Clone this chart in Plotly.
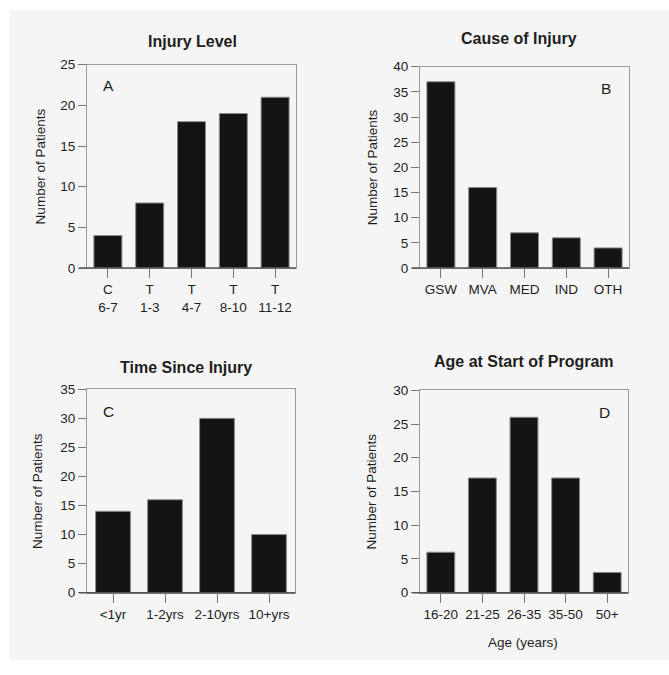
import plotly.graph_objects as go

# ---- data -------------------------------------------------------------
level_labels = ["C<br>6-7", "T<br>1-3", "T<br>4-7", "T<br>8-10", "T<br>11-12"]
level_counts = [4, 8, 18, 19, 21]

cause_labels = ["GSW", "MVA", "MED", "IND", "OTH"]
cause_counts = [37, 16, 7, 6, 4]

time_labels = ["<1yr", "1-2yrs", "2-10yrs", "10+yrs"]
time_counts = [14, 16, 30, 10]

age_labels = ["16-20", "21-25", "26-35", "35-50", "50+"]
age_counts = [6, 17, 26, 17, 3]

W, H = 669, 675
FONT = "Liberation Sans, Arial, sans-serif"
INK = "#1e1e1e"
BAR = "#141414"
FRAME = "#9a9a9a"

# panel boxes in pixels: (left, right, top, bottom)
panels = [
    dict(labels=level_labels, counts=level_counts, box=(87, 296, 59, 267), ymax=25,
         title="Injury Level", title_xy=(192, 35), letter="A", letter_xy=(108, 80),
         ytitle_x=40),
    dict(labels=cause_labels, counts=cause_counts, box=(420, 629, 61, 267), ymax=40,
         title="Cause of Injury", title_xy=(519, 32), letter="B", letter_xy=(606, 83),
         ytitle_x=372),
    dict(labels=time_labels, counts=time_counts, box=(87, 295, 391, 599), ymax=35,
         title="Time Since Injury", title_xy=(186, 369), letter="C", letter_xy=(108, 414),
         ytitle_x=38),
    dict(labels=age_labels, counts=age_counts, box=(420, 628, 392, 599), ymax=30,
         title="Age at Start of Program", title_xy=(524, 363), letter="D", letter_xy=(604, 415),
         ytitle_x=371),
]


def px_x(v):
    return v / W


def px_y(v):
    return 1 - v / H


def label(text, x, y, size, angle=0):
    return dict(text=text, xref="paper", yref="paper", x=px_x(x), y=px_y(y),
                xanchor="center", yanchor="middle", textangle=angle,
                showarrow=False, font=dict(family=FONT, size=size, color=INK))


fig = go.Figure()
annotations = []
shapes = [
    # light grey sheet behind the four panels
    dict(type="rect", xref="paper", yref="paper", x0=px_x(9), x1=1.0,
         y0=px_y(668), y1=px_y(3), fillcolor="#f5f5f5", line_width=0, layer="below"),
]

for i, p in enumerate(panels, start=1):
    xa = "x" if i == 1 else f"x{i}"
    ya = "y" if i == 1 else f"y{i}"
    left, right, top, bottom = p["box"]
    n = len(p["labels"])

    fig.add_trace(go.Bar(
        x=list(range(n)), y=p["counts"], xaxis=xa, yaxis=ya,
        width=0.67, marker=dict(color=BAR, line=dict(color="#8a8a8a", width=1)),
        showlegend=False, hoverinfo="skip",
    ))

    axis_common = dict(
        showgrid=False, zeroline=False, showline=True, mirror=True,
        linecolor=FRAME, linewidth=1.2, ticks="outside", tickcolor="#777777",
        tickwidth=1.2, tickfont=dict(family=FONT, size=13.5, color=INK),
        fixedrange=True,
    )
    fig.layout[xa.replace("x", "xaxis")] = dict(
        axis_common, domain=[px_x(left), px_x(right)], anchor=ya,
        range=[-0.5, n - 0.5], tickmode="array", tickvals=list(range(n)),
        ticktext=p["labels"], ticklen=9,
    )
    fig.layout[ya.replace("y", "yaxis")] = dict(
        axis_common, domain=[px_y(bottom), px_y(top)], anchor=xa,
        range=[0, p["ymax"]], dtick=5, ticklen=8,
    )

    # darker baseline along the category axis
    shapes.append(dict(type="line", xref="paper", yref="paper",
                       x0=px_x(left - 8), x1=px_x(right), y0=px_y(bottom), y1=px_y(bottom),
                       line=dict(color="#555555", width=1.6)))

    tx, ty = p["title_xy"]
    annotations.append(label(f"<b>{p['title']}</b>", tx, ty, 16))
    lx, ly = p["letter_xy"]
    annotations.append(label(p["letter"], lx, ly, 15.5))
    annotations.append(label("Number of Patients", p["ytitle_x"], (top + bottom) / 2, 13.5, -90))

annotations.append(label("Age (years)", 523, 650, 13.5))

fig.update_layout(
    width=W, height=H, margin=dict(l=0, r=0, t=0, b=0),
    paper_bgcolor="white", plot_bgcolor="rgba(0,0,0,0)",
    bargap=0.33, shapes=shapes, annotations=annotations,
    font=dict(family=FONT, color=INK),
)

fig.write_html("out.html", config={"displayModeBar": False})
